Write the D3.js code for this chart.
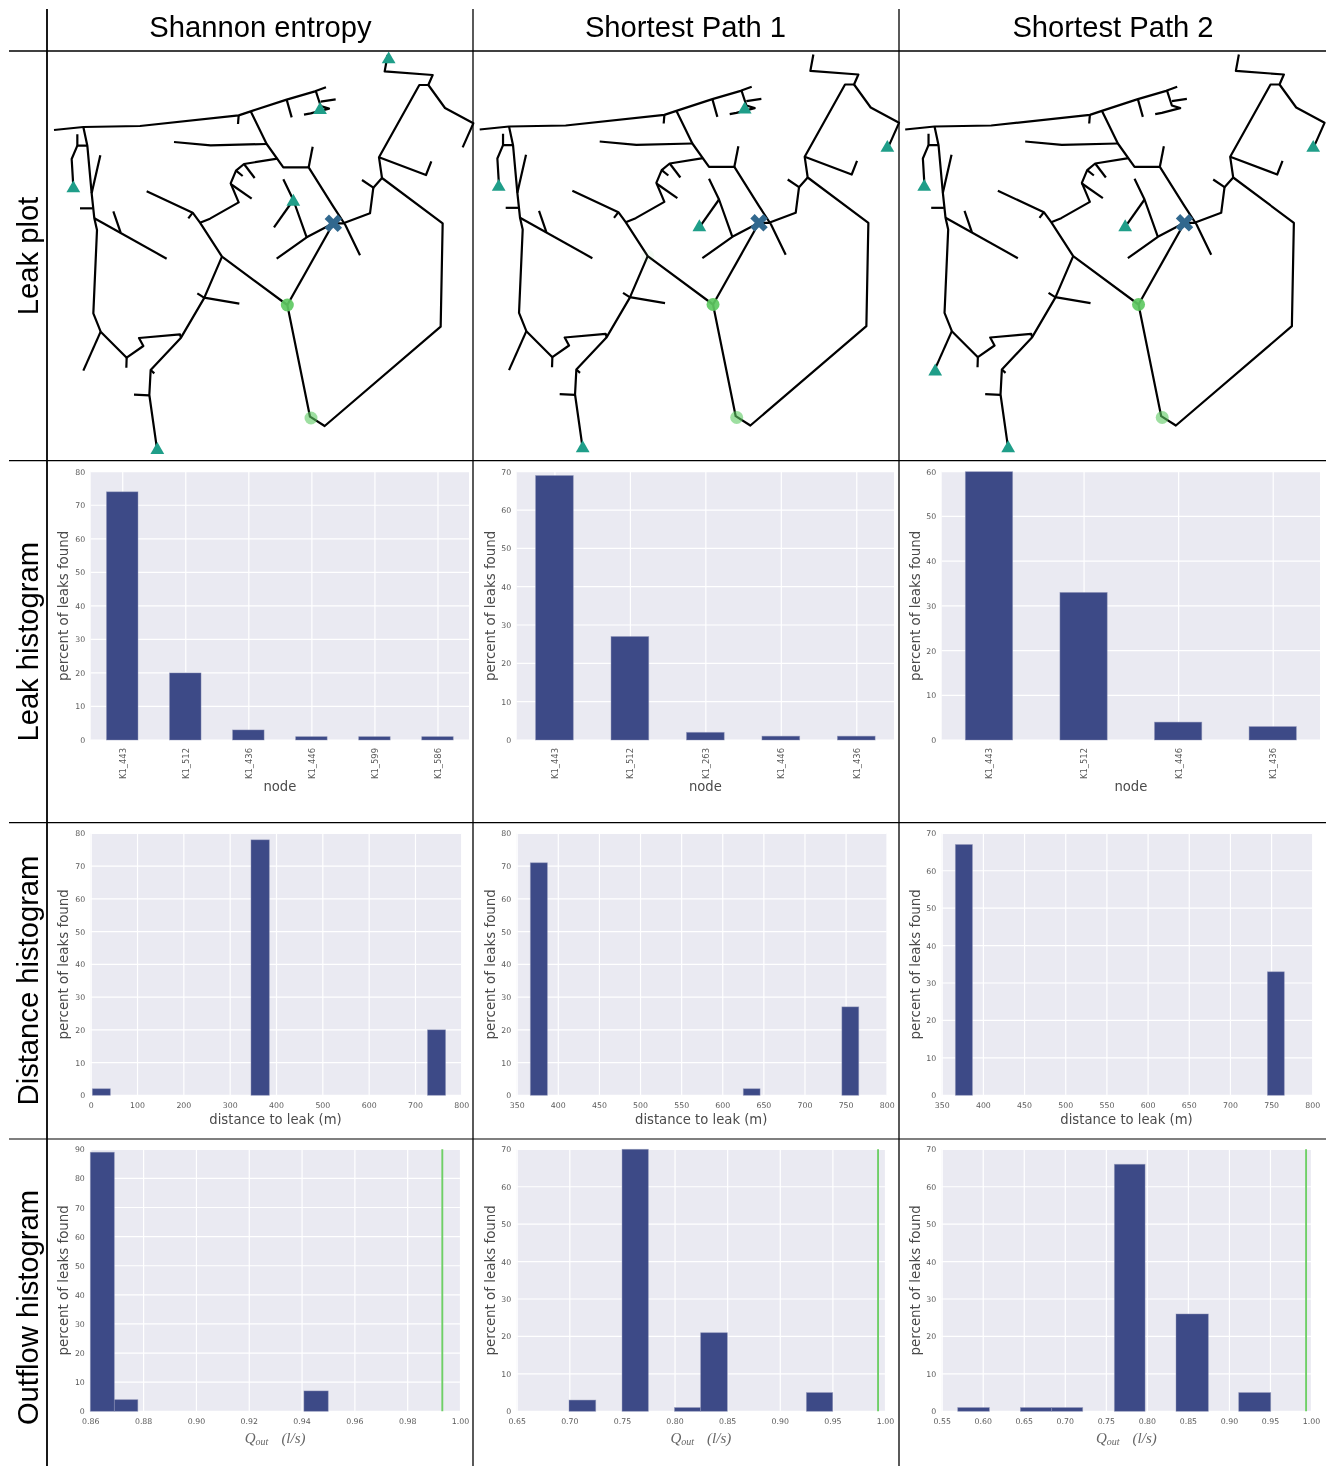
<!DOCTYPE html>
<html><head><meta charset="utf-8">
<script src="https://cdn.jsdelivr.net/npm/d3@7/dist/d3.min.js"></script>
<style>
html,body{margin:0;padding:0;background:#fff;}
svg{display:block;}
.soft{filter:blur(0.45px);}
</style></head><body>
<svg id="c" width="1335" height="1466"></svg>
<script>
// ---------- table text
const columnTitles = ["Shannon entropy","Shortest Path 1","Shortest Path 2"];
const rowTitles = ["Leak plot","Leak histogram","Distance histogram","Outflow histogram"];

// ---------- leak histogram
const leakNodes1 = ["K1_443","K1_512","K1_436","K1_446","K1_599","K1_586"];
const leakValues1 = [74,20,3,1,1,1];
const leakNodes2 = ["K1_443","K1_512","K1_263","K1_446","K1_436"];
const leakValues2 = [69,27,2,1,1];
const leakNodes3 = ["K1_443","K1_512","K1_446","K1_436"];
const leakValues3 = [60,33,4,3];

// ---------- distance histogram [bin start, bin end]
const distBins1 = [[3.6,42.4],[346,385.6],[727,766]];
const distValues1 = [2,78,20];
const distBins2 = [[366.6,387.3],[625.6,646],[745.5,766]];
const distValues2 = [71,2,27];
const distBins3 = [[366.6,387.3],[745.5,766]];
const distValues3 = [67,33];
const distTicks1 = [0,100,200,300,400,500,600,700,800];
const distTicks2 = [350,400,450,500,550,600,650,700,750,800];

// ---------- outflow histogram
const flowBins1 = [[0.86,0.8691],[0.8691,0.878],[0.9409,0.9501]];
const flowValues1 = [89,4,7];
const flowBins2 = [[0.6997,0.7251],[0.7501,0.7751],[0.7999,0.8248],[0.8248,0.8502],[0.9253,0.9503]];
const flowValues2 = [3,70,1,21,5];
const flowBins3 = [[0.5695,0.6081],[0.6459,0.684],[0.684,0.7218],[0.7604,0.7978],[0.8355,0.8749],[0.9119,0.9509]];
const flowValues3 = [1,1,1,66,26,5];
const flowTicks1 = [0.86,0.88,0.90,0.92,0.94,0.96,0.98,1.00];
const flowTicks2 = [0.65,0.70,0.75,0.80,0.85,0.90,0.95,1.00];
const flowTicks3 = [0.55,0.60,0.65,0.70,0.75,0.80,0.85,0.90,0.95,1.00];
const trueOutflow = [0.9933,0.9934,0.994];

// ---------- network (map units), polylines
const pipes = [
 [[162,390],[250,381],[420,378],[716,346],[752,334],[860,299],[945,274],[978,262]],
 [[250,381],[262,437],[275,580],[283,655],[291,690],[280,940],[302,995],[380,1073],[430,1038],[417,1014],[540,1003],[543,1013]],
 [[232,403],[232,437],[262,437]],
 [[232,437],[215,477],[220,560]],
 [[301,466],[275,580]],
 [[240,625],[278,625]],
 [[283,655],[500,776]],
 [[340,634],[362,698]],
 [[302,995],[250,1112]],
 [[380,1073],[379,1103]],
 [[666,770],[612,895],[543,1013],[452,1110],[448,1185],[470,1340]],
 [[452,1110],[463,1120]],
 [[402,1184],[448,1186]],
 [[592,880],[612,893],[718,911]],
 [[752,334],[800,432],[850,502],[926,502],[1000,620],[1036,675],[1080,766]],
 [[522,426],[632,436],[800,432]],
 [[926,502],[938,440]],
 [[832,476],[732,492],[708,512],[692,550],[716,607],[630,656],[600,668]],
 [[440,574],[578,638],[600,668],[666,770],[862,915],[930,1250],[974,1278],[1322,980],[1328,670],[1146,534],[1137,472],[1258,255],[1285,255],[1298,225],[1154,214],[1163,165]],
 [[1285,255],[1335,324],[1420,370],[1388,442]],
 [[1137,472],[1278,525],[1294,484]],
 [[1146,534],[1120,563],[1086,540]],
 [[1120,563],[1110,640],[1030,670],[1000,670],[920,712],[830,776]],
 [[1000,670],[862,915]],
 [[850,538],[880,600],[920,712]],
 [[880,600],[822,682]],
 [[692,552],[755,596]],
 [[732,492],[764,534]],
 [[708,512],[728,528]],
 [[565,655],[578,638]],
 [[716,346],[714,372]],
 [[860,299],[875,352]],
 [[947,272],[962,318],[987,326],[932,340],[912,344]],
 [[962,305],[1007,298]],
];
// sensors per panel
const sensors1 = [[1166,178],[960,330],[220,565],[880,605],[472,1350]];
const sensors2 = [[957,330],[1385,445],[219,562],[821,683],[471,1346]];
const sensors3 = [[1386,445],[219,562],[822,683],[252,1116],[471,1346]];
const leakSite = [1000,670];
// estimated leak locations: [x, y, opacity]
const estimates1 = [[862,915,0.92],[933,1254,0.6]];
const estimates2 = [[862,915,0.92],[933,1254,0.6],[666,770,0.07]];
const estimates3 = [[862,915,0.92],[933,1254,0.6]];

// ---------- layout
const svg = d3.select("#c");
const colX = [47,473,899];
const rowY = [51,460.7,822.7,1139];
const navy = "#3d4a87", panelBg = "#eaeaf2", tickCol = "#5a5a5a", labelCol = "#4a4a4a";
const sans = "'DejaVu Sans',sans-serif";

// ----- network panels
const mapOffX = [0,425.7,851.2], mapOffY = [0,-0.5,-0.5];
[sensors1,sensors2,sensors3].forEach((sensors,i)=>{
  const mx = d3.scaleLinear().domain([0,1440]).range([mapOffX[i],mapOffX[i]+480]);
  const my = d3.scaleLinear().domain([0,1440]).range([mapOffY[i],mapOffY[i]+480]);
  const g = svg.append("g").attr("class","soft");
  const line = d3.line().x(d=>mx(d[0])).y(d=>my(d[1]));
  g.selectAll("path.p").data(pipes).join("path").attr("class","p")
    .attr("d",line).attr("fill","none").attr("stroke","#000").attr("stroke-width",2.2)
    .attr("stroke-linejoin","round").attr("stroke-linecap","butt");
  const est = [estimates1,estimates2,estimates3][i];
  g.selectAll("circle").data(est).join("circle")
    .attr("cx",d=>mx(d[0])).attr("cy",d=>my(d[1])).attr("r",6.5)
    .attr("fill","#5ec962").attr("fill-opacity",d=>d[2]);
  const tri = d3.symbol().type(d3.symbolTriangle).size(82)();
  g.selectAll("path.t").data(sensors).join("path").attr("class","t")
    .attr("d",tri).attr("transform",d=>`translate(${mx(d[0])},${my(d[1])})`)
    .attr("fill","#1f9e89");
  g.append("path").attr("d",d3.symbol().type(d3.symbolCross).size(190)())
    .attr("transform",`translate(${mx(leakSite[0])},${my(leakSite[1])}) rotate(45)`)
    .attr("fill","#31688e");
});

// ----- shared histogram frame
function frame(box,xDomain,yMax,xTicks,xFmt,yLabelX){
  const g = svg.append("g").attr("class","soft");
  const x = d3.scaleLinear().domain(xDomain).range([box.l,box.r]);
  const y = d3.scaleLinear().domain([0,yMax]).range([box.b,box.t]);
  g.append("rect").attr("x",box.l).attr("y",box.t).attr("width",box.r-box.l).attr("height",box.b-box.t).attr("fill",panelBg);
  const yA = g.append("g").attr("transform",`translate(${box.l},0)`)
    .call(d3.axisLeft(y).tickValues(d3.ticks(0,yMax,yMax/10)).tickFormat(d3.format("d")).tickSize(0).tickPadding(5.5));
  yA.selectAll("line").remove();
  y.ticks(yMax/10).forEach(v=>{
    g.append("line").attr("x1",box.l).attr("x2",box.r).attr("y1",y(v)).attr("y2",y(v)).attr("stroke","#fff").attr("stroke-width",1.2);
  });
  const xA = g.append("g").attr("transform",`translate(0,${box.b})`)
    .call(d3.axisBottom(x).tickValues(xTicks).tickFormat(xFmt).tickSizeInner(-(box.b-box.t)).tickSizeOuter(0).tickPadding(7));
  xA.selectAll("line").attr("stroke","#fff").attr("stroke-width",1.2);
  [yA,xA].forEach(a=>{
    a.select(".domain").remove();
    a.selectAll("text").attr("fill",tickCol).attr("font-size",7.8).attr("font-family",sans);
  });
  g.append("text").attr("transform",`translate(${yLabelX},${(box.t+box.b)/2}) rotate(-90)`)
    .attr("text-anchor","middle").attr("dominant-baseline","central")
    .attr("font-family",sans).attr("font-size",13.4).attr("fill",labelCol).text("percent of leaks found");
  return {g,x,y};
}
const yLabX = [63,490,915];

// ----- leak histograms
const leakBoxes = [{l:90.7,r:469},{l:516.7,r:894},{l:941.7,r:1320}];
const leakMax = [80,70,60];
[[leakNodes1,leakValues1],[leakNodes2,leakValues2],[leakNodes3,leakValues3]].forEach(([nodes,vals],i)=>{
  const box = Object.assign({t:471.7,b:740},leakBoxes[i]);
  const idx = nodes.map((_,k)=>k);
  const {g,x,y} = frame(box,[-0.5,nodes.length-0.5],leakMax[i],idx,k=>nodes[k],yLabX[i]);
  g.selectAll("rect.bar").data(vals).join("rect").attr("class","bar")
    .attr("x",(d,k)=>x(k-0.25)).attr("width",(d,k)=>x(k+0.25)-x(k-0.25))
    .attr("y",d=>y(d)).attr("height",d=>y(0)-y(d))
    .attr("fill",navy).attr("stroke","#8f95b8").attr("stroke-opacity",.55).attr("stroke-width",.8);
  g.selectAll("g.tick").each(function(){
    const t = d3.select(this).select("text");
    if(!nodes.includes(t.text())) return;
    t.attr("transform","translate(0,8) rotate(-90)").attr("x",0).attr("y",0).attr("dy","0.35em")
     .attr("text-anchor","end").attr("font-size",8.4);
  });
  g.append("text").attr("x",(box.l+box.r)/2).attr("y",786.7).attr("text-anchor","middle").attr("dominant-baseline","central")
    .attr("font-family",sans).attr("font-size",13.2).attr("fill",labelCol).text("node");
});

// ----- value histograms
function hist(box,xDomain,yMax,bins,vals,ticks,fmt,yLabelX){
  const {g,x,y} = frame(box,xDomain,yMax,ticks,fmt,yLabelX);
  g.selectAll("rect.bar").data(vals).join("rect").attr("class","bar")
    .attr("x",(d,k)=>x(bins[k][0])).attr("width",(d,k)=>x(bins[k][1])-x(bins[k][0]))
    .attr("y",d=>y(d)).attr("height",d=>y(0)-y(d))
    .attr("fill",navy).attr("stroke","#8f95b8").attr("stroke-opacity",.55).attr("stroke-width",.8);
  return {g,x,y};
}
const distBoxes = [{l:90.7,r:461.3},{l:516.7,r:886.7},{l:941.7,r:1312.3}];
const distDomains = [[0,800],[350,800],[350,800]];
const distMax = [80,80,70];
[[distBins1,distValues1,distTicks1],[distBins2,distValues2,distTicks2],[distBins3,distValues3,distTicks2]].forEach(([b,v,t],i)=>{
  const box = Object.assign({t:833.3,b:1095.3},distBoxes[i]);
  const {g} = hist(box,distDomains[i],distMax[i],b,v,t,d3.format("d"),yLabX[i]);
  g.append("text").attr("x",(box.l+box.r)/2-0.5).attr("y",1119.3).attr("text-anchor","middle").attr("dominant-baseline","central")
    .attr("font-family",sans).attr("font-size",13.2).attr("fill",labelCol).text("distance to leak (m)");
});
const flowBoxes = [{l:90.3,r:460},{l:516.7,r:885},{l:941.7,r:1311}];
const flowDomains = [[0.86,1],[0.65,1],[0.55,1]];
const flowMax = [90,70,70];
[[flowBins1,flowValues1,flowTicks1],[flowBins2,flowValues2,flowTicks2],[flowBins3,flowValues3,flowTicks3]].forEach(([b,v,t],i)=>{
  const box = Object.assign({t:1149.3,b:1411.3},flowBoxes[i]);
  const {g,x,y} = hist(box,flowDomains[i],flowMax[i],b,v,t,d3.format(".2f"),yLabX[i]);
  g.append("line").attr("x1",x(trueOutflow[i])).attr("x2",x(trueOutflow[i])).attr("y1",y(0)).attr("y2",y(flowMax[i]))
    .attr("stroke","#6fcf67").attr("stroke-width",1.9);
  const lab = g.append("text").attr("x",(box.l+box.r)/2).attr("y",1438).attr("text-anchor","middle").attr("dominant-baseline","central")
    .attr("font-family","'Liberation Serif',serif").attr("font-style","italic").attr("font-size",15).attr("fill","#666");
  lab.append("tspan").text("Q");
  lab.append("tspan").attr("font-size",10).attr("dy",3).text("out");
  lab.append("tspan").attr("dy",-3).attr("dx",13).text("(l/s)");
});

// ----- table rules and titles
const rules = svg.append("g").attr("stroke","#000");
colX.forEach((x,i)=>rules.append("line").attr("x1",x).attr("x2",x).attr("y1",9).attr("y2",1466).attr("stroke-width",i?1.3:1.8));
rowY.forEach((y,i)=>rules.append("line").attr("x1",9).attr("x2",1326).attr("y1",y).attr("y2",y).attr("stroke-width",i?1.2:1.5));
const colCx = [260.5,685.5,1113];
svg.selectAll("text.col").data(columnTitles).join("text").attr("class","col")
  .attr("x",(d,i)=>colCx[i]).attr("y",37).attr("text-anchor","middle")
  .attr("font-family","'Liberation Sans',Arial,sans-serif").attr("font-size",29.2).attr("fill","#000").text(d=>d);
const rowCy = [256,641.8,980.5,1307.5];
svg.selectAll("text.row").data(rowTitles).join("text").attr("class","row")
  .attr("transform",(d,i)=>`translate(37.5,${rowCy[i]}) rotate(-90)`).attr("text-anchor","middle")
  .attr("font-family","'Liberation Sans',Arial,sans-serif").attr("font-size",29.2).attr("fill","#000").text(d=>d);
</script>
</body></html>
